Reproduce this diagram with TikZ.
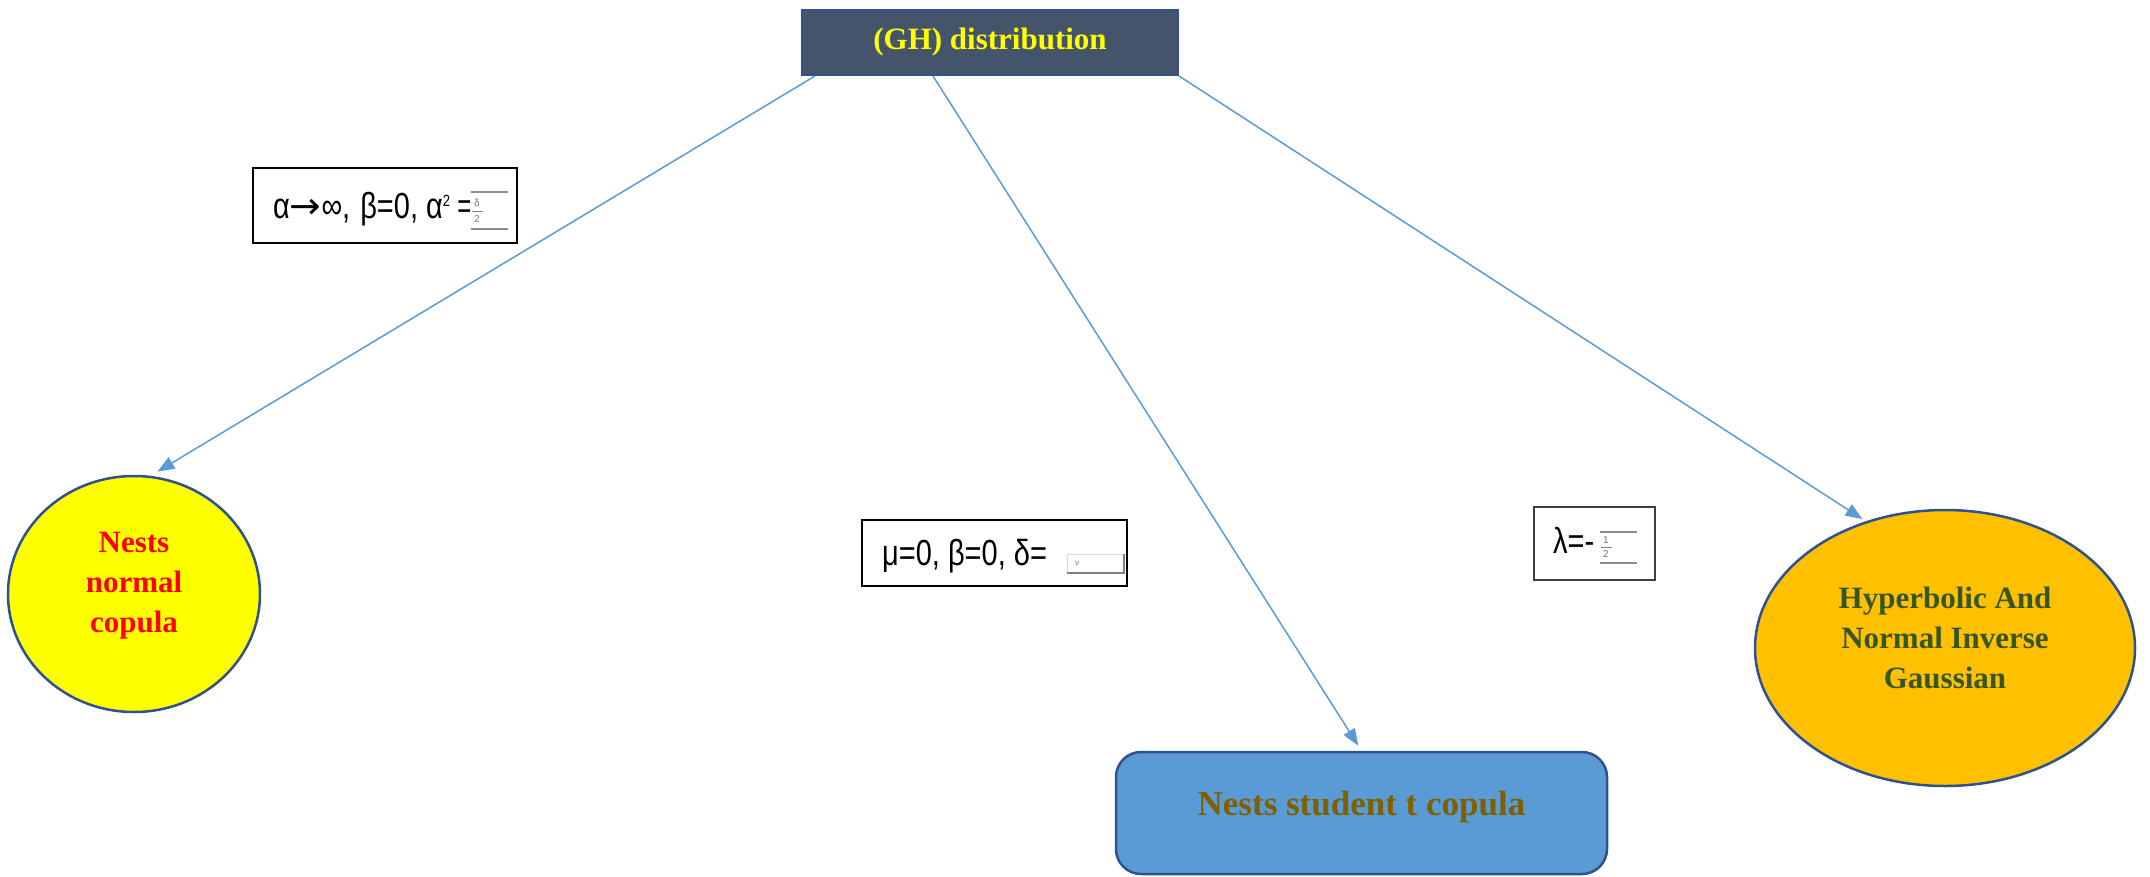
\documentclass[tikz,border=0pt]{standalone}
\usepackage{graphicx}
\usepackage{fontspec}
\setmainfont{Liberation Serif}
\newfontfamily\labfont{Liberation Sans}
\newfontfamily\arrowfont{DejaVu Sans}
\usetikzlibrary{arrows.meta,shapes.geometric}
\definecolor{ghfill}{HTML}{44546A}
\definecolor{edgeblue}{HTML}{2F528F}
\definecolor{arrowblue}{HTML}{5B9BD5}
\definecolor{nestsred}{HTML}{FF0000}
\definecolor{hypgreen}{HTML}{375623}
\definecolor{orangefill}{HTML}{FFC000}
\definecolor{brownt}{HTML}{7F6000}
\definecolor{ghyellow}{HTML}{FFFF00}
\begin{document}
\begin{tikzpicture}[x=1pt,y=-1pt,
  arr/.style={draw=arrowblue,line width=1.5pt,-{Triangle[length=17pt,width=13pt]}},
  labbox/.style={draw=black,line width=2pt,fill=white,inner sep=0pt},
  labtext/.style={anchor=base west,inner sep=0pt,font=\labfont\fontsize{29}{34}\selectfont},
  ttl/.style={font=\bfseries\fontsize{31}{40}\selectfont,align=center,inner sep=0pt},
  fracline/.style={draw=black!45,line width=1.5pt},
  fractxt/.style={inner sep=0pt,text=black!55,font=\labfont\fontsize{10}{10}\selectfont},
]
\useasboundingbox (0,0) rectangle (2150,876);

% top box
\node[draw=edgeblue,line width=2pt,fill=ghfill,minimum width=376pt,minimum height=65pt,
      inner sep=0pt,text=ghyellow,font=\bfseries\fontsize{31}{36}\selectfont] (gh) at (990,42.5) {(GH) distribution};

% left ellipse
\node[ellipse,draw=edgeblue,line width=2.5pt,fill=ghyellow,minimum width=252pt,minimum height=236pt,inner sep=0pt] (nn) at (134,594) {};
\node[ttl,text=nestsred] (nnt) at (134,586) {Nests\\normal\\copula};

% right ellipse
\node[ellipse,draw=edgeblue,line width=2.5pt,fill=orangefill,minimum width=380pt,minimum height=276pt,inner sep=0pt] (hn) at (1945,648) {};
\node[ttl,text=hypgreen] (hnt) at (1945,638) {Hyperbolic And\\Normal Inverse\\Gaussian};

% bottom rounded rectangle
\node[rounded corners=25pt,draw=edgeblue,line width=2.5pt,fill=arrowblue,minimum width=491pt,minimum height=122pt,inner sep=0pt] (st) at (1361.5,813) {};
\node[anchor=base,inner sep=0pt,text=brownt,font=\bfseries\fontsize{35}{40}\selectfont] (stt) at (1361.5,815) {Nests student t copula};

% arrows
\draw[arr,shorten >=8pt] ([xshift=14pt]gh.south west) -- (nn.82);
\draw[arr,shorten >=6pt] ([xshift=132pt]gh.south west) -- (st.north);
\draw[arr,shorten >=4pt] (gh.south east) -- (hn.122);

% label box 1
\node[labbox,minimum width=264pt,minimum height=75pt] (l1) at (385,205.5) {};
\node[labtext] (l1t) at (273,218) {\scalebox{1}[1.25]{α\scalebox{1.3}[1]{\arrowfont →}∞,\hspace{10pt}β=0, α\raisebox{9pt}{\fontsize{13}{13}\selectfont 2}\hspace{7pt}=}};
\fill[white] (470,190) rectangle (509,231);
\draw[fracline] (471,192) -- (508,192);
\draw[fracline] (471,229) -- (508,229);
\node[fractxt] (f1a) at (477,203) {δ};
\draw[draw=black!50,line width=0.8pt] (472,211) -- (483,211);
\node[fractxt] (f1b) at (477,219) {2};

% label box 2
\node[labbox,minimum width=265pt,minimum height=66pt] (l2) at (994.5,553) {};
\node[labtext] (l2t) at (882,565) {\scalebox{1}[1.25]{μ=0, β=0, δ=}};
\draw[draw=black!15,line width=1pt] (1067,554) rectangle (1124,573);
\draw[draw=black!50,line width=1.2pt] (1067,573) -- (1124,573) -- (1124,554);
\node[fractxt,font=\labfont\fontsize{8}{8}\selectfont] (f2) at (1077,563) {ν};

% label box 3
\node[labbox,draw=black!75,line width=1.5pt,minimum width=121pt,minimum height=73pt] (l3) at (1594.5,543.5) {};
\node[labtext] (l3t) at (1553,553) {\scalebox{1}[1.25]{λ=-}};
\draw[fracline] (1600,532) -- (1637,532);
\draw[fracline] (1600,563) -- (1637,563);
\node[fractxt] (f3a) at (1606,540) {1};
\draw[draw=black!50,line width=0.8pt] (1601,547) -- (1612,547);
\node[fractxt] (f3b) at (1606,554) {2};
\end{tikzpicture}
\end{document}
